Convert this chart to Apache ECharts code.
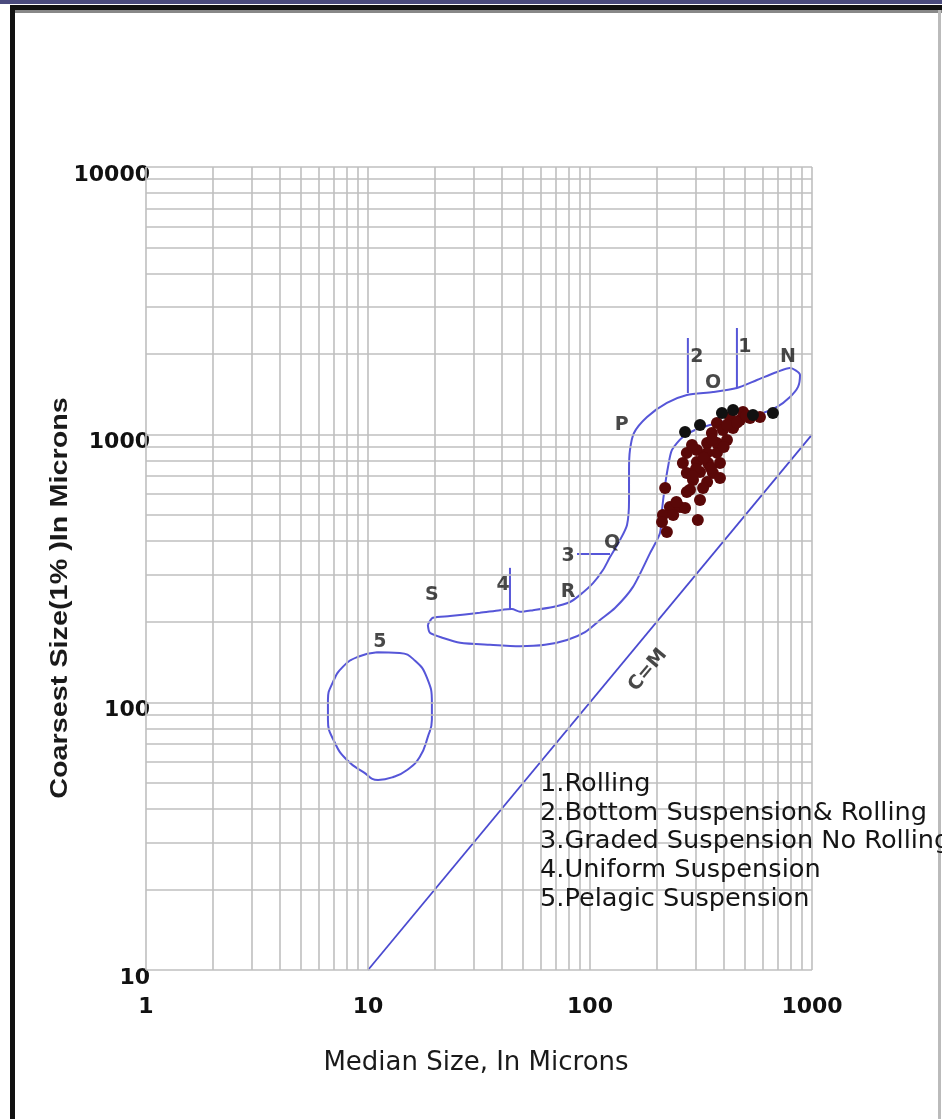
<!DOCTYPE html>
<html>
<head>
<meta charset="utf-8">
<script src="https://cdn.jsdelivr.net/npm/echarts@6/dist/echarts.min.js"></script>
<style>
html,body{margin:0;padding:0;background:#fff;}
#chart{width:942px;height:1119px;}
</style>
</head>
<body>
<div id="chart"></div>
<script>
// ---- data ----
const xTicks = [1, 10, 100, 1000];
const yTicks = [10, 100, 1000, 10000];
const xGridValues = [1,2,3,4,5,6,7,8,9,10,20,30,40,50,60,70,80,90,100,200,300,400,500,600,700,800,900,1000];
const yGridValues = [10,20,30,40,50,60,70,80,90,100,200,300,400,500,600,700,800,900,1000,2000,3000,4000,5000,6000,7000,8000,9000,10000];

// C = M line
const cmLine = [[10, 10], [1000, 1000]];

// envelope of fields 1-4 (N O P Q R S)
const envelopeCurve = [
  [18.6,195],[19.6,207],[23.4,210],[31.9,216],[39.3,221],[44.5,223],[48.4,218],[55.4,221],
  [68.1,227],[81.3,237],[90.2,252],[103.2,279],[114.4,312],[123.1,349],[136.5,404],[146.8,460],
  [149.9,570],[149.9,738],[151.4,877],[157.8,1015],[180.7,1164],[222,1314],[273,1407],[358,1443],
  [459,1495],[565,1601],[696,1715],[796,1775],[883,1671],[865,1508],[796,1383],[696,1269],
  [583,1195],[427,1135],[313,1059],[262,980],[234,877],[224.6,757],[218,649],[211,523],
  [206.7,429],[186.4,361],[156.2,270],[129.6,225],[110.9,203],[95.0,183],[78.8,171],[62.7,164],
  [48.4,162],[35.4,164],[26.0,167],[21.8,174],[19.0,182],[18.6,195]
];

// field 5 : pelagic suspension
const pelagicLoop = [
  [11.0,154],[13.9,153],[16.3,143],[18.4,124],[19.4,99.5],[19.4,86],[18.6,74.3],[17.1,62.5],
  [15.0,55.9],[13.0,52.6],[11.1,51.3],[9.5,55.0],[8.04,60.9],[7.10,70.5],[6.60,86],[6.60,102],
  [6.95,119],[7.72,136],[9.02,148],[11.0,154]
];

// boundary ticks
const tick1 = [[459,1495],[459,2503]];
const tick2 = [[276,1431],[276,2297]];
const tick3 = [[87.4,358],[123.1,358]];
const tick4 = [[43.6,221.5],[43.6,318]];

// samples
const blackSamples = [[268,1023],[313,1087],[393,1205],[441,1237],[542,1185],[667,1205]];
const redSamples = [
  [427,1164],[474,1135],[373,1106],[354,1015],[397,1041],[441,1059],[337,931],[373,931],
  [414,955],[303,877],[273,855],[337,855],[373,855],[262,784],[303,791],[340,784],[385,784],
  [273,719],[313,725],[358,719],[291,677],[337,666],[385,689],[282,622],[323,632],[313,570],
  [273,611],[218,632],[229,537],[254,537],[213,501],[237,501],[268,532],[306,480],[222,433],
  [211,472],[526,1155],[583,1164],[489,1215],[414,1087],[288,915],[460,1110],[505,1180],
  [355,960],[325,820],[300,745],[350,750],[400,900],[290,700],[245,560]
];

// in-plot markers
const markerNames = ['1','2','O','N','P','Q','3','4','R','S','5','C=M'];
const markerX = [499, 303, 358, 780, 139, 125.6, 79.6, 40.6, 79.6, 19.4, 11.3, 182.5];
const markerY = [2126, 1951, 1560, 1951, 1087, 394, 352, 274, 258, 252, 168, 132];

const legendLines = [
  '1.Rolling',
  '2.Bottom Suspension& Rolling',
  '3.Graded Suspension No Rolling',
  '4.Uniform Suspension',
  '5.Pelagic Suspension'
];
const xTitle = 'Median Size, In Microns';
const yTitle = 'Coarsest Size(1% )In Microns';

// ---- chart ----
const chart = echarts.init(document.getElementById('chart'), null, {renderer: 'canvas'});
const curveColor = '#5656d8';
const lineSeries = (data, smooth) => ({
  type: 'line', data: data, showSymbol: false, symbol: 'none', smooth: smooth,
  lineStyle: {color: curveColor, width: 2}, z: 3, silent: true
});

const markerData = markerNames.map((n, i) => {
  const item = {name: n, value: [markerX[i], markerY[i]]};
  if (n === 'C=M') item.label = {rotate: 50, fontSize: 19};
  return item;
});

const option = {
  animation: false,
  backgroundColor: '#fff',
  grid: {left: 146, right: 130, top: 167, bottom: 149, containLabel: false},
  xAxis: {
    type: 'log', logBase: 10, min: 1, max: 1000, splitNumber: 3,
    axisLine: {show: false}, axisTick: {show: false}, splitLine: {show: false},
    axisLabel: {
      margin: 26, color: '#111', fontFamily: 'DejaVu Sans', fontWeight: 'bold', fontSize: 22,
      formatter: v => String(Math.round(v))
    }
  },
  yAxis: {
    type: 'log', logBase: 10, min: 10, max: 10000, splitNumber: 3,
    axisLine: {show: false}, axisTick: {show: false}, splitLine: {show: false},
    axisLabel: {
      margin: -4, color: '#111', fontFamily: 'DejaVu Sans', fontWeight: 'bold', fontSize: 22,
      verticalAlign: 'top', lineHeight: 16,
      formatter: v => String(Math.round(v))
    }
  },
  series: [
    {
      type: 'line', data: [], silent: true, z: 1,
      markLine: {
        silent: true, symbol: ['none', 'none'], animation: false,
        label: {show: false},
        lineStyle: {color: '#bfbfbf', width: 1.6, type: 'solid'},
        emphasis: {disabled: true},
        data: xGridValues.map(v => ({xAxis: v})).concat(yGridValues.map(v => ({yAxis: v})))
      }
    },
    Object.assign(lineSeries(cmLine, false), {lineStyle: {color: '#4a4ad0', width: 1.8}}),
    lineSeries(envelopeCurve, 0.25),
    lineSeries(pelagicLoop, 0.5),
    lineSeries(tick1, false),
    lineSeries(tick2, false),
    lineSeries(tick3, false),
    lineSeries(tick4, false),
    {
      type: 'scatter', data: redSamples, symbolSize: 12, z: 5, silent: true,
      itemStyle: {color: '#5a0808', opacity: 1}
    },
    {
      type: 'scatter', data: blackSamples, symbolSize: 12, z: 6, silent: true,
      itemStyle: {color: '#111', opacity: 1}
    },
    {
      type: 'scatter', data: markerData, symbolSize: 0, z: 7, silent: true,
      label: {
        show: true, position: 'inside', formatter: p => p.name,
        color: '#1a1a1a', fontFamily: 'DejaVu Sans', fontWeight: 'bold', fontSize: 19
      }
    }
  ],
  graphic: [
    // page frame
    {type: 'rect', shape: {x: 0, y: 0, width: 942, height: 4}, style: {fill: '#4b4b7e'}, z: 10},
    {type: 'rect', shape: {x: 10, y: 5, width: 932, height: 5}, style: {fill: '#111'}, z: 10},
    {type: 'rect', shape: {x: 10, y: 10, width: 932, height: 3}, style: {fill: '#888'}, z: 10},
    {type: 'rect', shape: {x: 10, y: 5, width: 5, height: 1114}, style: {fill: '#111'}, z: 10},
    {type: 'rect', shape: {x: 938, y: 10, width: 3, height: 1109}, style: {fill: '#bbb'}, z: 10},
    {
      type: 'text', left: 540, top: 770, z: 10,
      style: {
        text: legendLines.join('\n'), fill: '#151515',
        font: '25.6px "DejaVu Sans"', lineHeight: 28.7
      }
    },
    {
      type: 'text', x: 476, y: 1063, z: 10,
      style: {
        text: xTitle, fill: '#1a1a1a', font: '26px "DejaVu Sans"',
        align: 'center', verticalAlign: 'middle'
      }
    },
    {
      type: 'text', x: 60, y: 598, rotation: Math.PI / 2, scaleX: 1.2, z: 10,
      style: {
        text: yTitle, fill: '#1a1a1a', font: 'bold 24px "Liberation Sans"',
        align: 'center', verticalAlign: 'middle'
      }
    }
  ]
};
chart.setOption(option);
</script>
</body>
</html>
